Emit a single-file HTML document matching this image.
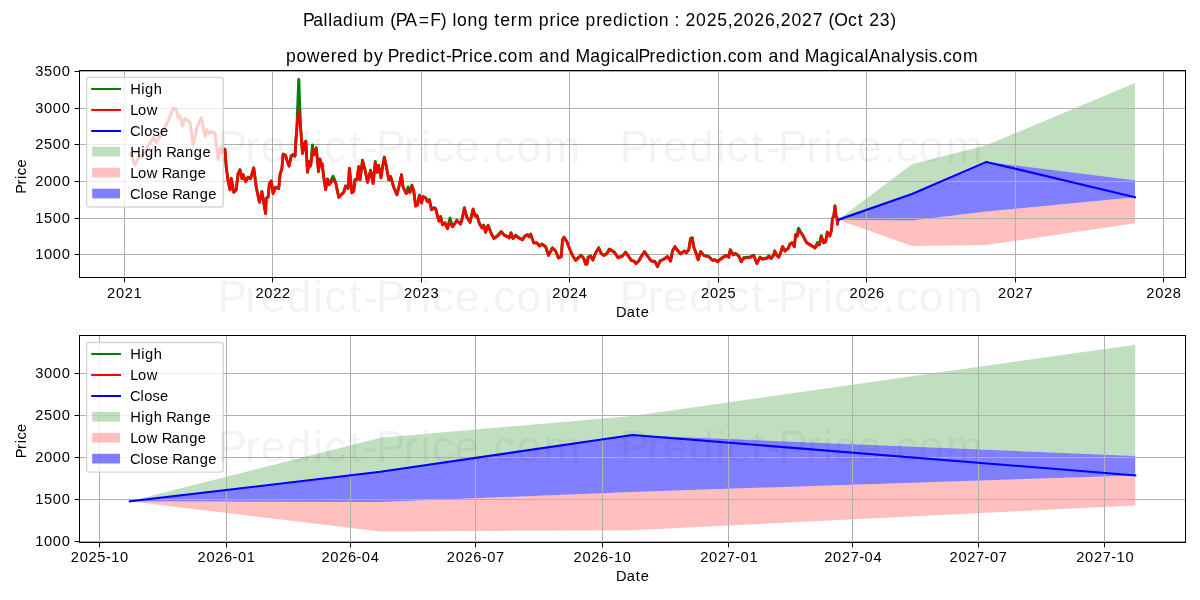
<!DOCTYPE html>
<html><head><meta charset="utf-8"><title>Palladium (PA=F) long term price prediction</title>
<style>html,body{margin:0;padding:0;background:#fff;overflow:hidden}svg{display:block;will-change:transform;filter:grayscale(0)}text{font-family:"Liberation Sans",sans-serif;white-space:pre}</style></head><body>
<svg width="1200" height="600" viewBox="0 0 1200 600">
<rect width="1200" height="600" fill="#fff"/>
<g id="all">
<g id="ax1">
<polygon points="838,219.81 912,164.32 986.4,145.27 1135,83.11 1135,180.16 986.4,161.91 912,194.01" fill="#008000" fill-opacity="0.25"/>
<polygon points="838,219.81 912,220.4 986.4,211.6 1135,197.16 1135,223.33 986.4,244.95 912,246.05" fill="#ff0000" fill-opacity="0.25"/>
<polygon points="838,219.81 912,194.01 986.4,161.91 1135,180.16 1135,197.16 986.4,211.6 912,220.4" fill="#0000ff" fill-opacity="0.5"/>
<path d="M124.5 70.5V277.5M272.5 70.5V277.5M421.5 70.5V277.5M569.5 70.5V277.5M718.5 70.5V277.5M866.5 70.5V277.5M1015.5 70.5V277.5M1163.5 70.5V277.5M79.5 71.5H1185.5M79.5 108.5H1185.5M79.5 144.5H1185.5M79.5 181.5H1185.5M79.5 218.5H1185.5M79.5 254.5H1185.5" stroke="#b0b0b0" stroke-width="1" fill="none"/>
<polyline points="130,152.05 135,164.55 138.75,157.05 141,157.05 153.75,137.05 156.25,142.05 159.4,137.05 166.25,124.55 168.75,119.55 173.1,108.3 176.25,108.95 178.1,117.05 180,115.85 182.5,125.8 185,118.3 190,122.05 193.1,144.55 197.5,125.8 201.25,117.65 205,135.8 206.9,129.55 208.75,133.3 211.25,131.45 215,133.3 218.1,159.55 220.6,147.05 221.9,152.05 224.4,148.95 225,149.55 226.25,167.05 228.1,180.8 230,189.55 231.25,178.3 233.75,192.05 236.25,189.55 238.1,173.3 240,169.55 241.9,178.3 243.1,174.55 245.6,181.45 248.1,177.05 250.6,178.3 253.75,167.65 256.25,187.05 259.4,202.05 261.9,191.45 265.6,213.3 266.25,198.3 268.1,197.05 269.4,183.3 271.25,180.8 273.1,193.3 275.6,187.05 278.75,188.3 280,174.55 281.9,168.3 283.1,153.95 285.6,155.15 287.5,162.05 289.1,165.8 291.25,155.8 293.1,154.55 295,155.8 295.6,144.55 296.9,127.05 298.75,79.4 300.6,127.05 302.5,153.3 305,142.05 305.8,141.05 307.5,172.05 309.4,161.45 310.6,165.8 312.5,145 312.75,149.55 314,154.55 316.25,147.65 318.5,171.45 320,158.95 321.25,165.8 322.1,163.3 323.75,177.05 325.6,189.55 327.5,178.95 328.75,184.55 333.1,176.25 335.6,182.05 338.75,197.05 343.75,192.05 345.6,185.8 348.1,188.3 349.4,168.3 351.9,192.65 353.75,190.8 355,179.55 356.9,179.55 358.75,166.45 360,179.55 362.5,160.15 365,169.55 367.5,182.05 370.6,170.15 373.1,183.3 375.25,161.5 376.9,172.05 378.5,165.15 381,177.65 382.5,167.05 384.4,157.05 386.25,165.8 388.75,179.55 390.6,176.45 393.75,187.05 396.9,194.55 399.4,184.55 401.5,174.55 403.1,187.05 406.25,193.3 408.1,186.9 410,192.05 411.9,185.15 413.75,190.8 415.6,205.8 417.5,204.55 419.4,195.15 421.5,202.65 423.1,196.45 425.6,197.65 427.5,201.45 429.4,199.55 431.5,209.55 433.75,207.65 435.6,208.3 437.5,215.8 439,220.8 440.6,216.45 442.5,224.55 445,222.65 447.5,228.3 450,218.1 452.5,226.45 454.4,223.95 456.9,220.15 460.6,223.95 462.5,217.05 464.4,207.65 466.9,217.05 470,222.05 473.1,208.95 475,215.8 476.9,215.15 479.4,223.3 481.9,227.65 483.75,225.15 485.6,232.05 488.1,225.15 491.25,233.3 494,238.3 497.5,235.8 501.25,231.45 504.4,235.15 507.5,236.45 509.4,237.65 510.9,232.65 513.1,238.3 515.6,235.15 518.75,237.65 522.5,239.55 525,235.8 527.5,234.55 529,236.45 530.6,233.95 533.75,242.65 536.9,242.65 539.4,245.8 541.9,243.95 545.6,246.45 548.5,255.15 552.5,247.65 555.6,250.8 558.5,257.65 561.25,256.45 562.5,239.55 564,237.05 566.9,241.45 570,249.55 572.5,255.15 575.6,260.15 578.75,257.05 581.25,255.15 583.75,258.3 585.6,263.95 586.9,263.95 588.1,257.35 590.6,255.8 592.9,259.85 595.6,252.65 598.75,247.65 601.25,253.3 603.75,255.15 606.9,253.3 609.4,248.95 614.4,252.05 618.1,257.65 622.5,255.8 625.6,252.05 628.75,256.45 631.25,260.15 633.75,260.8 636,263.3 638.75,260.8 641.25,256.45 644.4,251.45 647.5,255.8 651.25,260.8 655,261.45 657.5,266.45 660,260.8 663.75,258.95 667.5,256.45 670.6,260.8 672.5,250.8 675,246.45 677.8,250.55 680.6,253.55 684.4,250.8 686.25,252.65 688.75,249.55 690.6,238.3 692.25,237.65 693.75,247.05 696.25,253.3 698.1,259.55 700.6,251.45 703.75,255.15 708.75,256.45 712.5,260.15 715,259.55 717.5,261.45 721.25,258.3 726.25,255.15 728.75,257.05 730.25,249.55 733.1,254.55 735.6,253.3 738.75,255.8 741.25,261.45 743.75,257.65 750,257.05 753.75,255.15 756.9,263.3 760,257.05 762.5,258.95 767.5,257.65 768.75,255.8 771.25,258.3 773.75,254.55 774.75,250.8 776.9,255.15 778.75,257.05 780.6,252.65 782.5,246.45 785,250.8 788.1,248.3 790,243.95 791.9,242.65 794.4,246.45 795.6,234.55 797.25,235.8 798.5,228.1 800.6,232.05 802.5,234.55 805,239.55 806.9,242.65 810,244.55 813.1,246.45 815,247.65 817.5,242.5 819.4,244.55 821.25,235.6 823.75,242.65 825.6,241.45 827.25,232.05 829.75,235.8 831.25,230.8 832.5,218.3 833.75,215.8 835,205.8 836,216.45 836.9,217.05 837.5,223.95 838.1,219.05" fill="none" stroke="#008000" stroke-width="2.9" stroke-linejoin="round"/>
<polyline points="130,152.5 135,165 138.75,157.5 141,157.5 153.75,137.5 156.25,142.5 159.4,137.5 166.25,125 168.75,120 173.1,108.75 176.25,109.4 178.1,117.5 180,116.3 182.5,126.25 185,118.75 190,122.5 193.1,145 197.5,126.25 201.25,118.1 205,136.25 206.9,130 208.75,133.75 211.25,131.9 215,133.75 218.1,160 220.6,147.5 221.9,152.5 224.4,149.4 225,150 226.25,167.5 228.1,181.25 230,190 231.25,178.75 233.75,192.5 236.25,190 238.1,173.75 240,170 241.9,178.75 243.1,175 245.6,181.9 248.1,177.5 250.6,178.75 253.75,168.1 256.25,187.5 259.4,202.5 261.9,191.9 265.6,213.75 266.25,198.75 268.1,197.5 269.4,183.75 271.25,181.25 273.1,193.75 275.6,187.5 278.75,188.75 280,175 281.9,168.75 283.1,154.4 285.6,155.6 287.5,162.5 289.1,166.25 291.25,156.25 293.1,155 295,156.25 295.6,145 296.9,127.5 298.75,110 300.6,127.5 302.5,153.75 305,142.5 305.8,141.5 307.5,172.5 309.4,161.9 310.6,166.25 312.75,150 314,155 316.25,148.1 318.5,171.9 320,159.4 321.25,166.25 322.1,163.75 323.75,177.5 325.6,190 327.5,179.4 328.75,185 333.1,180 335.6,182.5 338.75,197.5 343.75,192.5 345.6,186.25 348.1,188.75 349.4,168.75 351.9,193.1 353.75,191.25 355,180 356.9,180 358.75,166.9 360,180 362.5,160.6 365,170 367.5,182.5 370.6,170.6 373.1,183.75 375.25,163 376.9,172.5 378.5,165.6 381,178.1 382.5,167.5 384.4,157.5 386.25,166.25 388.75,180 390.6,176.9 393.75,187.5 396.9,195 399.4,185 401.5,175 403.1,187.5 406.25,193.75 408.1,191.25 410,192.5 411.9,185.6 413.75,191.25 415.6,206.25 417.5,205 419.4,195.6 421.5,203.1 423.1,196.9 425.6,198.1 427.5,201.9 429.4,200 431.5,210 433.75,208.1 435.6,208.75 437.5,216.25 439,221.25 440.6,216.9 442.5,225 445,223.1 447.5,228.75 450,221.9 452.5,226.9 454.4,224.4 456.9,220.6 460.6,224.4 462.5,217.5 464.4,208.1 466.9,217.5 470,222.5 473.1,209.4 475,216.25 476.9,215.6 479.4,223.75 481.9,228.1 483.75,225.6 485.6,232.5 488.1,225.6 491.25,233.75 494,238.75 497.5,236.25 501.25,231.9 504.4,235.6 507.5,236.9 509.4,238.1 510.9,233.1 513.1,238.75 515.6,235.6 518.75,238.1 522.5,240 525,236.25 527.5,235 529,236.9 530.6,234.4 533.75,243.1 536.9,243.1 539.4,246.25 541.9,244.4 545.6,246.9 548.5,255.6 552.5,248.1 555.6,251.25 558.5,258.1 561.25,256.9 562.5,240 564,237.5 566.9,241.9 570,250 572.5,255.6 575.6,260.6 578.75,257.5 581.25,255.6 583.75,258.75 585.6,264.4 586.9,264.4 588.1,257.8 590.6,256.25 592.9,260.3 595.6,253.1 598.75,248.1 601.25,253.75 603.75,255.6 606.9,253.75 609.4,249.4 614.4,252.5 618.1,258.1 622.5,256.25 625.6,252.5 628.75,256.9 631.25,260.6 633.75,261.25 636,263.75 638.75,261.25 641.25,256.9 644.4,251.9 647.5,256.25 651.25,261.25 655,261.9 657.5,266.9 660,261.25 663.75,259.4 667.5,256.9 670.6,261.25 672.5,251.25 675,246.9 677.8,251 680.6,254 684.4,251.25 686.25,253.1 688.75,250 690.6,238.75 692.25,238.1 693.75,247.5 696.25,253.75 698.1,260 700.6,251.9 703.75,255.6 708.75,256.9 712.5,260.6 715,260 717.5,261.9 721.25,258.75 726.25,255.6 728.75,257.5 730.25,250 733.1,255 735.6,253.75 738.75,256.25 741.25,261.9 743.75,258.1 750,257.5 753.75,255.6 756.9,263.75 760,257.5 762.5,259.4 767.5,258.1 768.75,256.25 771.25,258.75 773.75,255 774.75,251.25 776.9,255.6 778.75,257.5 780.6,253.1 782.5,246.9 785,251.25 788.1,248.75 790,244.4 791.9,243.1 794.4,246.9 795.6,235 797.25,236.25 798.5,231.25 800.6,232.5 802.5,235 805,240 806.9,243.1 810,245 813.1,246.9 815,248.1 817.5,245 819.4,245 821.25,236.9 823.75,243.1 825.6,241.9 827.25,232.5 829.75,236.25 831.25,231.25 832.5,218.75 833.75,216.25 835,206.25 836,216.9 836.9,217.5 837.5,224.4 838.1,219.5" fill="none" stroke="#ff0000" stroke-width="2.7" stroke-linejoin="round"/>
<polyline points="838,219.81 912,194.01 986.4,161.91 1135,197.16" fill="none" stroke="#0000ff" stroke-width="2.08" stroke-linejoin="round" stroke-linecap="square"/>
<path d="M124.5 277.5v4.9M272.5 277.5v4.9M421.5 277.5v4.9M569.5 277.5v4.9M718.5 277.5v4.9M866.5 277.5v4.9M1015.5 277.5v4.9M1163.5 277.5v4.9M79.5 71.5h-4.9M79.5 108.5h-4.9M79.5 144.5h-4.9M79.5 181.5h-4.9M79.5 218.5h-4.9M79.5 254.5h-4.9" stroke="#000" stroke-width="1" fill="none"/>
<rect x="79.5" y="70.5" width="1106" height="207" fill="none" stroke="#000" stroke-width="1"/>
<text x="107.07 115.91 124.74 133.58" y="297.9" font-size="14.65">2021</text>
<text x="255.48 264.32 273.15 281.99" y="297.9" font-size="14.65">2022</text>
<text x="403.89 412.73 421.56 430.4" y="297.9" font-size="14.65">2023</text>
<text x="552.3 561.13 569.97 578.81" y="297.9" font-size="14.65">2024</text>
<text x="701.11 709.95 718.79 727.62" y="297.9" font-size="14.65">2025</text>
<text x="849.52 858.36 867.2 876.03" y="297.9" font-size="14.65">2026</text>
<text x="997.93 1006.77 1015.6 1024.44" y="297.9" font-size="14.65">2027</text>
<text x="1146.34 1155.18 1164.01 1172.85" y="297.9" font-size="14.65">2028</text>
<text x="35.2 44.03 52.87 61.71" y="76" font-size="14.65">3500</text>
<text x="35.2 44.03 52.87 61.71" y="113" font-size="14.65">3000</text>
<text x="35.2 44.03 52.87 61.71" y="149" font-size="14.65">2500</text>
<text x="35.2 44.03 52.87 61.71" y="186" font-size="14.65">2000</text>
<text x="35.2 44.03 52.87 61.71" y="223" font-size="14.65">1500</text>
<text x="35.2 44.03 52.87 61.71" y="259" font-size="14.65">1000</text>
<text x="615.96 626.78 635.79 640.75" y="316.7" font-size="14.65">Date</text>
<text transform="translate(26.4 176.1) rotate(-90)" x="-17.64 -8.39 -2.8 0.91 8.59" y="0" font-size="14.65">Price</text>
<rect x="86.6" y="77.4" width="136.7" height="129.6" rx="2.8" ry="2.8" fill="#fff" fill-opacity="0.8" stroke="#ccc" stroke-opacity="0.8" stroke-width="1.39"/>
<path d="M92.2 89H119.98" stroke="#008000" stroke-width="2" stroke-linecap="square" fill="none"/>
<path d="M92.2 110H119.98" stroke="#ff0000" stroke-width="2" stroke-linecap="square" fill="none"/>
<path d="M92.2 131H119.98" stroke="#0000ff" stroke-width="2" stroke-linecap="square" fill="none"/>
<rect x="92.2" y="146.79" width="27.78" height="9.72" fill="#008000" fill-opacity="0.25"/>
<rect x="92.2" y="167.74" width="27.78" height="9.72" fill="#ff0000" fill-opacity="0.25"/>
<rect x="92.2" y="188.69" width="27.78" height="9.72" fill="#0000ff" fill-opacity="0.5"/>
<text x="130.33 141.15 145.04 153.85" y="94.1" font-size="14.65">High</text>
<text x="130.19 138.07 146.78" y="115.05" font-size="14.65">Low</text>
<text x="129.96 140.4 144.13 152.41 159.89" y="136" font-size="14.65">Close</text>
<text x="130.33 141.15 145.04 153.85 162.49 166.27 176.26 184.91 193.72 202.4" y="156.95" font-size="14.65">High Range</text>
<text x="130.19 138.07 146.78 157.92 161.7 171.69 180.34 189.15 197.83" y="177.9" font-size="14.65">Low Range</text>
<text x="129.96 140.4 144.13 152.41 159.89 168.41 172.18 182.17 190.83 199.63 208.32" y="198.85" font-size="14.65">Close Range</text>
</g>
<g id="ax2">
<polygon points="129.8,501.35 380.47,437.76 632.52,415.92 1135.23,344.69 1135.23,455.9 632.52,434.99 380.47,471.78" fill="#008000" fill-opacity="0.25"/>
<polygon points="129.8,501.35 380.47,502.02 632.52,491.94 1135.23,475.39 1135.23,505.38 632.52,530.16 380.47,531.42" fill="#ff0000" fill-opacity="0.25"/>
<polygon points="129.8,501.35 380.47,471.78 632.52,434.99 1135.23,455.9 1135.23,475.39 632.52,491.94 380.47,502.02" fill="#0000ff" fill-opacity="0.5"/>
<path d="M99.5 335.5V542.5M226.5 335.5V542.5M350.5 335.5V542.5M475.5 335.5V542.5M602.5 335.5V542.5M728.5 335.5V542.5M852.5 335.5V542.5M978.5 335.5V542.5M1104.5 335.5V542.5M79.5 373.5H1185.5M79.5 415.5H1185.5M79.5 457.5H1185.5M79.5 499.5H1185.5M79.5 541.5H1185.5" stroke="#b0b0b0" stroke-width="1" fill="none"/>
<polyline points="129.8,501.35 380.47,471.78 632.52,434.99 1135.23,475.39" fill="none" stroke="#0000ff" stroke-width="2.08" stroke-linejoin="round" stroke-linecap="square"/>
<path d="M99.5 542.5v4.9M226.5 542.5v4.9M350.5 542.5v4.9M475.5 542.5v4.9M602.5 542.5v4.9M728.5 542.5v4.9M852.5 542.5v4.9M978.5 542.5v4.9M1104.5 542.5v4.9M79.5 373.5h-4.9M79.5 415.5h-4.9M79.5 457.5h-4.9M79.5 499.5h-4.9M79.5 541.5h-4.9" stroke="#000" stroke-width="1" fill="none"/>
<rect x="79.5" y="335.5" width="1106" height="207" fill="none" stroke="#000" stroke-width="1"/>
<text x="70.83 79.66 88.5 97.34 105.9 111.19 120.02" y="561.9" font-size="14.65">2025-10</text>
<text x="197.54 206.38 215.21 224.05 232.61 237.9 246.73" y="561.9" font-size="14.65">2026-01</text>
<text x="321.5 330.33 339.17 348.01 356.57 361.85 370.69" y="561.9" font-size="14.65">2026-04</text>
<text x="446.83 455.67 464.5 473.34 481.9 487.19 496.03" y="561.9" font-size="14.65">2026-07</text>
<text x="573.54 582.38 591.22 600.05 608.61 613.9 622.74" y="561.9" font-size="14.65">2026-10</text>
<text x="700.25 709.09 717.93 726.76 735.32 740.61 749.45" y="561.9" font-size="14.65">2027-01</text>
<text x="824.21 833.05 841.88 850.72 859.28 864.57 873.41" y="561.9" font-size="14.65">2027-04</text>
<text x="949.55 958.38 967.22 976.06 984.61 989.9 998.74" y="561.9" font-size="14.65">2027-07</text>
<text x="1076.26 1085.09 1093.93 1102.77 1111.33 1116.62 1125.45" y="561.9" font-size="14.65">2027-10</text>
<text x="35.2 44.03 52.87 61.71" y="378" font-size="14.65">3000</text>
<text x="35.2 44.03 52.87 61.71" y="420" font-size="14.65">2500</text>
<text x="35.2 44.03 52.87 61.71" y="462" font-size="14.65">2000</text>
<text x="35.2 44.03 52.87 61.71" y="504" font-size="14.65">1500</text>
<text x="35.2 44.03 52.87 61.71" y="546" font-size="14.65">1000</text>
<text x="615.96 626.78 635.79 640.75" y="581.3" font-size="14.65">Date</text>
<text transform="translate(26.4 440.5) rotate(-90)" x="-17.64 -8.39 -2.8 0.91 8.59" y="0" font-size="14.65">Price</text>
<rect x="86.6" y="342.5" width="136.7" height="129.6" rx="2.8" ry="2.8" fill="#fff" fill-opacity="0.8" stroke="#ccc" stroke-opacity="0.8" stroke-width="1.39"/>
<path d="M92.2 354H119.98" stroke="#008000" stroke-width="2" stroke-linecap="square" fill="none"/>
<path d="M92.2 375H119.98" stroke="#ff0000" stroke-width="2" stroke-linecap="square" fill="none"/>
<path d="M92.2 396H119.98" stroke="#0000ff" stroke-width="2" stroke-linecap="square" fill="none"/>
<rect x="92.2" y="411.89" width="27.78" height="9.72" fill="#008000" fill-opacity="0.25"/>
<rect x="92.2" y="432.84" width="27.78" height="9.72" fill="#ff0000" fill-opacity="0.25"/>
<rect x="92.2" y="453.79" width="27.78" height="9.72" fill="#0000ff" fill-opacity="0.5"/>
<text x="130.33 141.15 145.04 153.85" y="359.2" font-size="14.65">High</text>
<text x="130.19 138.07 146.78" y="380.15" font-size="14.65">Low</text>
<text x="129.96 140.4 144.13 152.41 159.89" y="401.1" font-size="14.65">Close</text>
<text x="130.33 141.15 145.04 153.85 162.49 166.27 176.26 184.91 193.72 202.4" y="422.05" font-size="14.65">High Range</text>
<text x="130.19 138.07 146.78 157.92 161.7 171.69 180.34 189.15 197.83" y="443" font-size="14.65">Low Range</text>
<text x="129.96 140.4 144.13 152.41 159.89 168.41 172.18 182.17 190.83 199.63 208.32" y="463.95" font-size="14.65">Close Range</text>
</g>
<text x="302.89 313.24 323.6 328.23 332.72 343.11 353.65 358.31 369.28 384.93 390.34 395.68 405.35 418.76 430.3 440.78 447.17 452.62 457.1 467.48 478.05 488.44 494.35 500.3 510.82 517.67 533.32 538.81 549.49 556.21 560.66 569.87 580.1 585.59 596.27 602.48 612.9 623.44 627.9 637.7 643.77 648.25 658.63 669 674.46 679.92 685.42 696.03 706.63 717.23 727.63 733.14 743.74 754.34 764.95 775.34 780.85 791.45 802.06 812.66 823.06 828.47 834.37 847.96 857.76 863.67 869.18 879.78 890.3" y="26.2" font-size="17.58">Palladium (PA=F) long term price prediction : 2025,2026,2027 (Oct 23)</text>
<text x="286.03 296.42 306.87 320.27 330.79 337 347.42 357.81 363.3 374.01 383.55 387.8 398.9 405.11 415.53 426.07 430.52 440.33 446.12 451.21 462.31 469.02 473.48 482.69 492.92 498.19 507.38 518.16 533.81 539.12 549.51 560.08 570.46 575.42 590.15 600.55 611.09 615.54 624.74 635.1 638.53 649.62 655.84 666.26 676.8 681.25 691.05 697.13 701.6 711.98 722.36 727.64 736.82 747.61 763.25 768.56 778.95 789.52 799.91 804.87 819.6 829.99 840.53 844.99 854.18 864.54 868.65 880.6 890.99 901.35 906.15 915.43 924.53 928.74 937.68 942.96 952.15 962.93" y="61.6" font-size="17.58">powered by Predict-Price.com and MagicalPrediction.com and MagicalAnalysis.com</text>
<g fill="#000" fill-opacity="0.047">
<text x="217.53 245.3 260.82 286.86 313.25 324.36 348.89 363.35 376.06 403.83 420.63 431.74 454.77 480.36 493.53 516.49 543.42" y="161.5" font-size="44.17">Predict-Price.com</text>
<text x="619.83 647.6 663.12 689.16 715.55 726.66 751.19 765.65 778.36 806.13 822.93 834.04 857.07 882.66 895.83 918.79 945.72" y="161.5" font-size="44.17">Predict-Price.com</text>
<text x="217.53 245.3 260.82 286.86 313.25 324.36 348.89 363.35 376.06 403.83 420.63 431.74 454.77 480.36 493.53 516.49 543.42" y="311.9" font-size="44.17">Predict-Price.com</text>
<text x="619.83 647.6 663.12 689.16 715.55 726.66 751.19 765.65 778.36 806.13 822.93 834.04 857.07 882.66 895.83 918.79 945.72" y="311.9" font-size="44.17">Predict-Price.com</text>
<text x="217.53 245.3 260.82 286.86 313.25 324.36 348.89 363.35 376.06 403.83 420.63 431.74 454.77 480.36 493.53 516.49 543.42" y="462" font-size="44.17">Predict-Price.com</text>
<text x="619.83 647.6 663.12 689.16 715.55 726.66 751.19 765.65 778.36 806.13 822.93 834.04 857.07 882.66 895.83 918.79 945.72" y="462" font-size="44.17">Predict-Price.com</text>
</g>
</g>
</svg></body></html>
